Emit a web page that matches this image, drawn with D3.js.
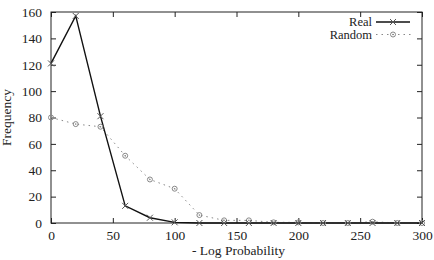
<!DOCTYPE html>
<html><head><meta charset="utf-8">
<script src="https://cdn.jsdelivr.net/npm/d3@7"></script>
<style>body{margin:0;background:#fff}svg{display:block}</style>
</head><body><svg id="c" width="434" height="260"></svg>
<script>
const xValues = [0,20,40,60,80,100,120,140,160,180,200,220,240,260,280,300];
const realValues = [121,157,81,13,4,0.5,0,0,0,0,0,0,0,0,0,0];
const randomValues = [80,75,73,51,33,26,6,2,2,0.5,0.5,0,0,1,0,0];
const xTicks = [0,50,100,150,200,250,300];
const yTicks = [0,20,40,60,80,100,120,140,160];
const seriesNames = ["Real","Random"];

const FONT = "Liberation Serif";
const FS = 13.5;
const svg = d3.select("#c");
const L=51,R=422,T=12,B=223;
const x = d3.scaleLinear().domain([0,300]).range([L,R]);
const y = d3.scaleLinear().domain([0,160]).range([B,T]);
const tl = 5;

svg.append("rect").attr("x",L).attr("y",T).attr("width",R-L).attr("height",B-T)
  .attr("fill","none").attr("stroke","#222").attr("stroke-width",1);

const gx = svg.append("g").attr("transform",`translate(0,${B})`)
  .call(d3.axisBottom(x).tickValues(xTicks).tickSize(-tl).tickPadding(tl+8).tickFormat(d3.format("d")));
const gxt = svg.append("g").attr("transform",`translate(0,${T})`)
  .call(d3.axisTop(x).tickValues(xTicks).tickSize(-tl).tickFormat(""));
const gy = svg.append("g").attr("transform",`translate(${L},0)`)
  .call(d3.axisLeft(y).tickValues(yTicks).tickSize(-tl).tickPadding(tl+4).tickFormat(d3.format("d")));
const gyr = svg.append("g").attr("transform",`translate(${R},0)`)
  .call(d3.axisRight(y).tickValues(yTicks).tickSize(-tl).tickFormat(""));
[gx,gxt,gy,gyr].forEach(g=>{
  g.attr("font-family",FONT).attr("font-size",FS);
  g.select(".domain").remove();
  g.selectAll(".tick line").attr("stroke","#222");
  g.selectAll("text").attr("fill","#222");
});
gx.selectAll("text").attr("dy","0.71em").attr("y",7);

function txt(sel){ return sel.attr("font-family",FONT).attr("font-size",FS).attr("fill","#222"); }
txt(svg.append("text")).attr("x",(L+R)/2+2).attr("y",255).attr("text-anchor","middle").text("- Log Probability");
txt(svg.append("text")).attr("transform",`translate(11,${(T+B)/2}) rotate(-90)`).attr("text-anchor","middle").text("Frequency");

const line = d3.line().x(d=>x(d[0])).y(d=>y(d[1]));
const realData = xValues.map((v,i)=>[v,realValues[i]]);
const randData = xValues.map((v,i)=>[v,randomValues[i]]);

const grey = "#888";
svg.append("path").datum(randData).attr("d",line).attr("fill","none")
  .attr("stroke",grey).attr("stroke-width",1).attr("stroke-dasharray","1.5,4");
svg.append("path").datum(realData).attr("d",line).attr("fill","none")
  .attr("stroke","#111").attr("stroke-width",1.4);

function cross(g,cx,cy,col){
  const s=3;
  g.append("path").attr("d",`M${cx-s},${cy-s}L${cx+s},${cy+s}M${cx-s},${cy+s}L${cx+s},${cy-s}`)
    .attr("stroke",col).attr("stroke-width",1).attr("fill","none");
}
function circ(g,cx,cy,col){
  g.append("circle").attr("cx",cx).attr("cy",cy).attr("r",2.5).attr("fill","none").attr("stroke",col).attr("stroke-width",1);
  g.append("circle").attr("cx",cx).attr("cy",cy).attr("r",0.8).attr("fill",col);
}
const mk = svg.append("g");
randData.forEach(d=>circ(mk,x(d[0]),y(d[1]),grey));
realData.forEach(d=>cross(mk,x(d[0]),y(d[1]),"#555"));

const lg = svg.append("g");
const ly=[22,34.5];
txt(lg.append("text")).attr("font-size",12.5).attr("x",372).attr("y",ly[0]).attr("dy","0.33em").attr("text-anchor","end").text(seriesNames[0]);
txt(lg.append("text")).attr("font-size",12.5).attr("x",372).attr("y",ly[1]).attr("dy","0.33em").attr("text-anchor","end").text(seriesNames[1]);
lg.append("line").attr("x1",376).attr("x2",410).attr("y1",ly[0]).attr("y2",ly[0]).attr("stroke","#111").attr("stroke-width",1.4);
cross(lg,393,ly[0],"#555");
lg.append("line").attr("x1",376).attr("x2",412).attr("y1",ly[1]).attr("y2",ly[1]).attr("stroke",grey).attr("stroke-dasharray","1.5,4");
circ(lg,393,ly[1],grey);
</script></body></html>
